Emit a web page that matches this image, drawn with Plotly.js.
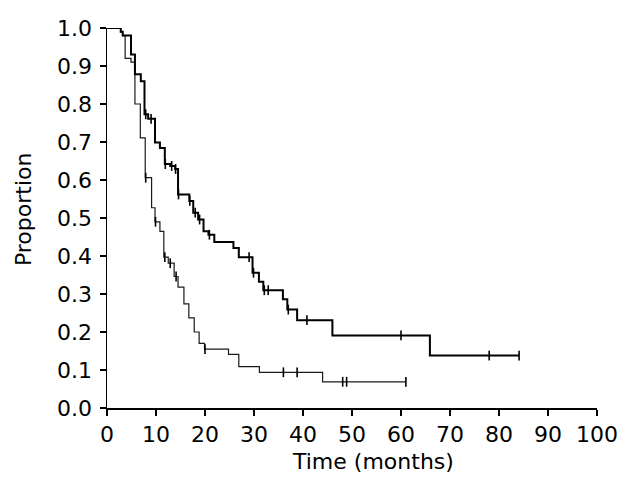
<!DOCTYPE html>
<html>
<head>
<meta charset="utf-8">
<script src="https://cdn.plot.ly/plotly-3.0.1.min.js"></script>
<style>html,body{margin:0;padding:0;background:#fff;}#chart{width:639px;height:483px;}</style>
</head>
<body>
<div id="chart"></div>
<script>
// Upper curve (thick line): step times (months) and survival after each step
var upperTimes = [0, 2.8, 3.2, 4.9, 5.7, 6.9, 7.65, 8.4, 9.8, 10.8, 11.8, 12.9, 13.9, 14.5, 16.8, 17.6, 18.6, 19.7, 20.7, 21.9, 25.8, 26.9, 29.7, 31.0, 31.9, 35.9, 36.8, 38.8, 46.0, 65.9, 84.1];
var upperSurv  = [1.0, 0.99, 0.98, 0.93, 0.878, 0.86, 0.773, 0.761, 0.699, 0.684, 0.642, 0.637, 0.629, 0.562, 0.545, 0.514, 0.496, 0.465, 0.456, 0.437, 0.421, 0.397, 0.356, 0.332, 0.31, 0.286, 0.259, 0.231, 0.191, 0.138, 0.138];
var upperCensor = [7.9, 9.0, 11.9, 13.2, 14.0, 14.6, 16.9, 18.0, 18.9, 20.9, 29.0, 29.9, 32.1, 32.9, 37.0, 40.8, 60.0, 78.0, 84.1];

// Lower curve (thin line)
var lowerTimes = [0, 2.8, 3.2, 3.7, 4.9, 5.7, 6.8, 7.8, 9.1, 9.8, 10.8, 11.6, 12.5, 13.7, 14.5, 15.7, 16.7, 17.8, 18.8, 19.9, 24.8, 26.9, 31.1, 44.0, 61.0];
var lowerSurv  = [1.0, 0.99, 0.98, 0.92, 0.91, 0.80, 0.711, 0.606, 0.527, 0.49, 0.465, 0.397, 0.381, 0.346, 0.318, 0.274, 0.237, 0.200, 0.170, 0.155, 0.141, 0.109, 0.094, 0.069, 0.069];
var lowerCensor = [7.9, 9.9, 11.8, 12.9, 14.1, 20.0, 36.0, 38.8, 48.1, 48.9, 61.0];

var xTicks = [0, 10, 20, 30, 40, 50, 60, 70, 80, 90, 100];
var yTicks = [0.0, 0.1, 0.2, 0.3, 0.4, 0.5, 0.6, 0.7, 0.8, 0.9, 1.0];
var yTickText = ["0.0", "0.1", "0.2", "0.3", "0.4", "0.5", "0.6", "0.7", "0.8", "0.9", "1.0"];
var xTitle = 'Time (months)';
var yTitle = 'Proportion';

function survAt(times, surv, t) {
  var v = surv[0];
  for (var i = 0; i < times.length; i++) { if (times[i] <= t) v = surv[i]; }
  return v;
}

var FONT = "'DejaVu Sans', sans-serif";

var traces = [
  {x: lowerTimes, y: lowerSurv, mode: 'lines', line: {shape: 'hv', color: '#1a1a1a', width: 1.2}, hoverinfo: 'skip'},
  {x: upperTimes, y: upperSurv, mode: 'lines', line: {shape: 'hv', color: '#000', width: 2}, hoverinfo: 'skip'},
  {x: lowerCensor, y: lowerCensor.map(function(t){return survAt(lowerTimes, lowerSurv, t);}), mode: 'markers',
   marker: {symbol: 'line-ns', size: 7, line: {color: '#000', width: 1.6}}, hoverinfo: 'skip'},
  {x: upperCensor, y: upperCensor.map(function(t){return survAt(upperTimes, upperSurv, t);}), mode: 'markers',
   marker: {symbol: 'line-ns', size: 7, line: {color: '#000', width: 1.6}}, hoverinfo: 'skip'}
];

var layout = {
  width: 639, height: 483,
  margin: {l: 107, r: 42, t: 28, b: 75},
  paper_bgcolor: '#fff', plot_bgcolor: '#fff',
  showlegend: false,
  font: {family: FONT, size: 22, color: '#000'},
  xaxis: {
    range: [0, 100], tickvals: xTicks, ticktext: xTicks.map(String),
    showgrid: false, zeroline: false, showline: true, linecolor: '#000', linewidth: 1.5,
    ticks: 'outside', ticklen: 6, tickwidth: 1.5, tickcolor: '#000',
    tickfont: {family: FONT, size: 22, color: '#000'}
  },
  yaxis: {
    range: [0, 1.0], tickvals: yTicks, ticktext: yTickText,
    showgrid: false, zeroline: false, showline: true, linecolor: '#000', linewidth: 1.5,
    ticks: 'outside', ticklen: 6, tickwidth: 1.5, tickcolor: '#000',
    ticklabelstandoff: 3,
    tickfont: {family: FONT, size: 22, color: '#000'}
  },
  annotations: [
    {text: xTitle, xref: 'paper', yref: 'paper', x: 0.543, y: -0.142, xanchor: 'center', yanchor: 'middle',
     showarrow: false, font: {family: FONT, size: 22, color: '#000'}},
    {text: yTitle, xref: 'paper', yref: 'paper', x: -0.169, y: 0.524, xanchor: 'center', yanchor: 'middle',
     textangle: -90, showarrow: false, font: {family: FONT, size: 22, color: '#000'}}
  ]
};

Plotly.newPlot('chart', traces, layout, {staticPlot: true, displayModeBar: false});
</script>
</body>
</html>
